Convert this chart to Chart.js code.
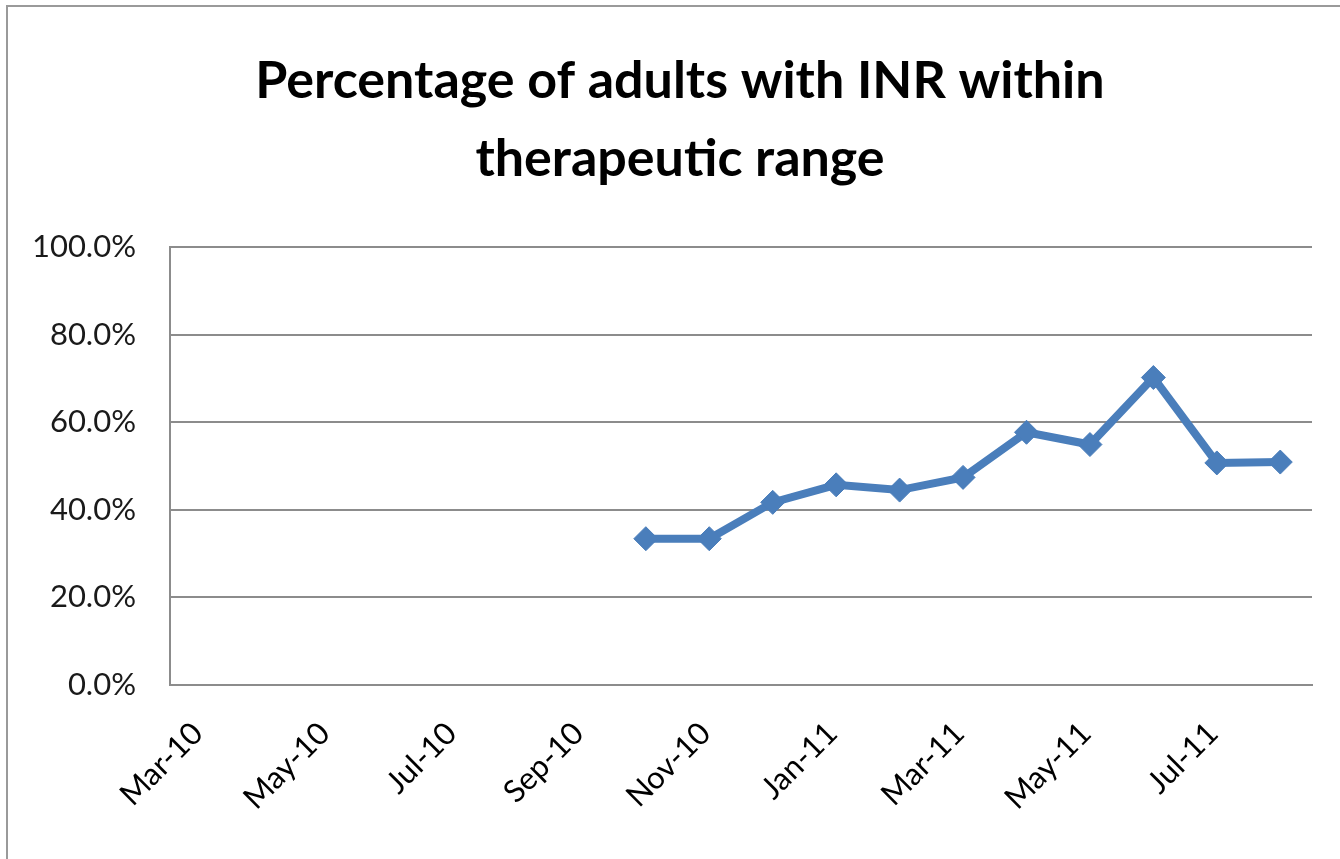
<!DOCTYPE html>
<html>
<head>
<meta charset="utf-8">
<script src="https://cdn.jsdelivr.net/npm/chart.js@4/dist/chart.umd.min.js"></script>
<style>
  html, body { margin: 0; padding: 0; background: #fff; }
  #wrap { position: absolute; left: 0; top: 0; width: 1340px; height: 859px; }
</style>
</head>
<body>
<div id="wrap"><canvas id="c" width="1340" height="859"></canvas></div>
<script>
const months = ["Mar-10","Apr-10","May-10","Jun-10","Jul-10","Aug-10","Sep-10","Oct-10","Nov-10","Dec-10",
                "Jan-11","Feb-11","Mar-11","Apr-11","May-11","Jun-11","Jul-11","Aug-11"];
const inrInRange = [null,null,null,null,null,null,null,33.4,33.4,41.7,45.7,44.5,47.4,57.7,54.9,70.2,50.7,50.9];
const yTicks = [0,20,40,60,80,100];
const titleLines = ["Percentage of adults with INR within","therapeutic range"];

const frame = {
  id: 'frame',
  afterLayout(chart) {
    if (chart.titleBlock) {
      chart.titleBlock.left = 48;
      chart.titleBlock.right = 1312;
    }
  },
  beforeDraw(chart) {
    const ctx = chart.ctx;
    ctx.save();
    ctx.fillStyle = '#fff';
    ctx.fillRect(0, 0, chart.width, chart.height);
    ctx.strokeStyle = '#9a9a9a';
    ctx.lineWidth = 2;
    ctx.beginPath();
    ctx.moveTo(7, chart.height);
    ctx.lineTo(7, 6);
    ctx.lineTo(chart.width, 6);
    ctx.stroke();
    ctx.restore();
  }
};

new Chart(document.getElementById('c'), {
  type: 'line',
  data: {
    labels: months,
    datasets: [{
      data: inrInRange,
      borderColor: '#4a7ebb',
      backgroundColor: '#4a7ebb',
      borderWidth: 8,
      pointStyle: 'rectRot',
      pointRadius: 12,
      pointBorderWidth: 1,
      pointBorderColor: '#4a7ebb',
      pointBackgroundColor: '#4a7ebb',
      tension: 0,
      spanGaps: false
    }]
  },
  options: {
    responsive: false,
    animation: false,
    devicePixelRatio: 1,
    layout: { padding: { left: 0, right: 28, top: 0, bottom: 0 } },
    plugins: {
      legend: { display: false },
      tooltip: { enabled: false },
      title: {
        display: true,
        text: titleLines,
        color: '#000',
        font: { family: 'Lato', size: 52, weight: 'bold', lineHeight: 1.5 },
        padding: { top: 42, bottom: 49 }
      }
    },
    scales: {
      x: {
        offset: true,
        grid: { display: false, drawTicks: false },
        border: { display: true, color: '#8c8c8c', width: 2 },
        ticks: {
          autoSkip: false,
          maxRotation: 45,
          minRotation: 45,
          color: '#000',
          padding: 30,
          labelOffset: -4,
          font: { family: 'Lato', size: 31 },
          callback: function(v, i) { return i % 2 === 0 ? months[i] : ''; }
        },
        afterFit(scale) { scale.height = 174; }
      },
      y: {
        min: 0,
        max: 100,
        afterBuildTicks(scale) { scale.ticks = yTicks.map(v => ({ value: v })); },
        grid: { color: '#8c8c8c', lineWidth: 2, drawTicks: false },
        border: { display: true, color: '#8c8c8c', width: 2 },
        ticks: {
          color: '#1a1a1a',
          padding: 34,
          font: { family: 'Lato', size: 31 },
          callback: v => v.toFixed(1) + '%'
        },
        afterFit(scale) { scale.width = 170; }
      }
    }
  },
  plugins: [frame]
});
</script>
</body>
</html>
